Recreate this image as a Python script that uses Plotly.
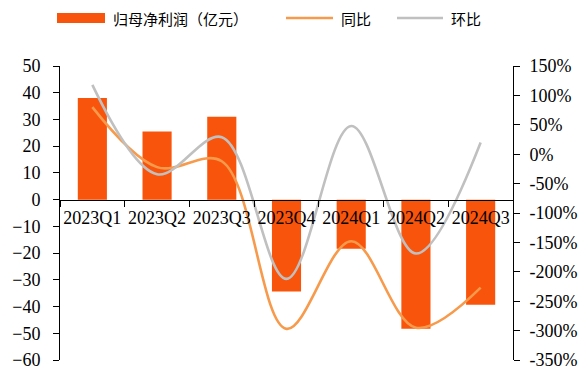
import plotly.graph_objects as go

# Quarterly data
quarters = ["2023Q1", "2023Q2", "2023Q3", "2023Q4", "2024Q1", "2024Q2", "2024Q3"]
net_profit = [38.0, 25.5, 31.0, -34.4, -18.4, -48.3, -39.3]      # 归母净利润（亿元）
yoy_pct = [80, -22, -12, -297, -148, -295, -227]                # 同比 (%)
qoq_pct = [118, -34, 29, -212, 48, -169, 20]                     # 环比 (%)

left_ticks = [50, 40, 30, 20, 10, 0, -10, -20, -30, -40, -50, -60]
right_ticks = [150, 100, 50, 0, -50, -100, -150, -200, -250, -300, -350]

BAR_COLOR = "#F9540B"
YOY_COLOR = "#F79A4B"
QOQ_COLOR = "#C0C0C0"
SERIF = "Liberation Serif"
CJK = "Noto Sans CJK SC"

fig = go.Figure()
fig.add_trace(go.Bar(
    x=quarters, y=net_profit, name="归母净利润（亿元）",
    marker=dict(color=BAR_COLOR, line=dict(width=0)), yaxis="y",
))
fig.add_trace(go.Scatter(
    x=quarters, y=yoy_pct, name="同比", mode="lines",
    line=dict(color=YOY_COLOR, width=2.6, shape="spline", smoothing=1.0), yaxis="y2",
))
fig.add_trace(go.Scatter(
    x=quarters, y=qoq_pct, name="环比", mode="lines",
    line=dict(color=QOQ_COLOR, width=2.6, shape="spline", smoothing=1.0), yaxis="y2",
))

y_min, y_max = -60, 50
zero_pos = (0 - y_min) / (y_max - y_min)

fig.update_layout(
    width=582, height=374,
    margin=dict(l=60, r=69, t=66, b=14),
    plot_bgcolor="white", paper_bgcolor="white",
    showlegend=False,
    bargap=0.55,
    xaxis=dict(
        type="category", anchor="free", position=zero_pos,
        showline=True, linecolor="black", linewidth=1,
        ticks="outside", ticklen=6, tickcolor="black", tickson="boundaries",
        tickangle=0, automargin=False, ticklabelstandoff=2,
        tickfont=dict(family=SERIF, size=18, color="black"),
        showgrid=False, zeroline=False,
    ),
    yaxis=dict(
        range=[y_min, y_max], tickvals=left_ticks, automargin=False,
        showline=True, linecolor="black", linewidth=1,
        ticks="outside", ticklen=6, tickcolor="black",
        ticklabelstandoff=9,
        tickfont=dict(family=SERIF, size=18, color="black"),
        showgrid=False, zeroline=False,
    ),
    yaxis2=dict(
        range=[-350, 150], tickvals=right_ticks, automargin=False,
        ticktext=[f"{v}%" for v in right_ticks],
        overlaying="y", side="right",
        showline=True, linecolor="black", linewidth=1,
        ticks="outside", ticklen=6, tickcolor="black",
        ticklabelstandoff=6,
        tickfont=dict(family=SERIF, size=18, color="black"),
        showgrid=False, zeroline=False,
    ),
)

# Legend row across the top
legend_y = 18
shapes = [
    dict(type="rect", xref="paper", yref="paper",
         x0=(57 - 60) / 453, x1=(105 - 60) / 453,
         y0=1 + (66 - legend_y - 5) / 294, y1=1 + (66 - legend_y + 5) / 294,
         fillcolor=BAR_COLOR, line=dict(width=0)),
    dict(type="line", xref="paper", yref="paper",
         x0=(286 - 60) / 453, x1=(333 - 60) / 453,
         y0=1 + (66 - legend_y) / 294, y1=1 + (66 - legend_y) / 294,
         line=dict(color=YOY_COLOR, width=2.6)),
    dict(type="line", xref="paper", yref="paper",
         x0=(397 - 60) / 453, x1=(443 - 60) / 453,
         y0=1 + (66 - legend_y) / 294, y1=1 + (66 - legend_y) / 294,
         line=dict(color=QOQ_COLOR, width=2.6)),
]
fig.update_layout(shapes=shapes)
for text, xpx in [("归母净利润（亿元）", 111), ("同比", 339), ("环比", 449)]:
    fig.add_annotation(
        text=text, xref="paper", yref="paper",
        x=(xpx - 60) / 453, y=1 + (66 - legend_y) / 294,
        xanchor="left", yanchor="middle", showarrow=False,
        font=dict(family=CJK, size=15, color="black"),
    )

fig.write_html("out.html")
